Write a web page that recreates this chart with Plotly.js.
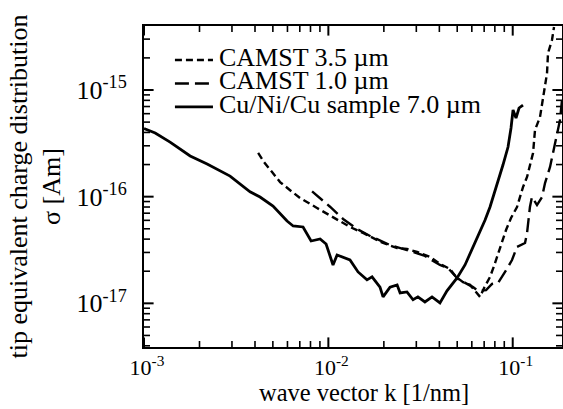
<!DOCTYPE html>
<html>
<head>
<meta charset="utf-8">
<script src="https://cdn.plot.ly/plotly-3.0.1.min.js"></script>
<style>html,body{margin:0;padding:0;background:#fff;}#chart{width:563px;height:409px;}</style>
</head>
<body>
<div id="chart"></div>
<script>
// Cu/Ni/Cu sample 7.0 um (solid)
const kCu = [0.00100, 0.00115, 0.001385, 0.00178, 0.00220, 0.00293, 0.00376, 0.00426, 0.00501, 0.00597, 0.00644, 0.00729, 0.00806, 0.00902, 0.00972, 0.0106, 0.01115, 0.0131, 0.01449, 0.0162, 0.01726, 0.01906, 0.0198, 0.0216, 0.0236, 0.0245, 0.0267, 0.0288, 0.0306, 0.0334, 0.0365, 0.0403, 0.0440, 0.0499, 0.0551, 0.0609, 0.0665, 0.0708, 0.0753, 0.0822, 0.0885, 0.0943, 0.0979, 0.1004, 0.1042, 0.1082, 0.1137];
const sCu = [4.36e-16, 3.95e-16, 3.25e-16, 2.41e-16, 2.02e-16, 1.56e-16, 1.11e-16, 9.93e-17, 8.18e-17, 5.91e-17, 5.31e-17, 5.20e-17, 3.84e-17, 4.01e-17, 3.60e-17, 2.29e-17, 2.84e-17, 2.55e-17, 1.97e-17, 1.66e-17, 1.77e-17, 1.42e-17, 1.15e-17, 1.42e-17, 1.49e-17, 1.25e-17, 1.28e-17, 1.08e-17, 1.15e-17, 1.03e-17, 1.15e-17, 1.01e-17, 1.31e-17, 1.73e-17, 2.29e-17, 3.38e-17, 4.67e-17, 6.04e-17, 8.00e-17, 1.29e-16, 1.98e-16, 2.92e-16, 4.40e-16, 6.49e-16, 5.46e-16, 6.78e-16, 7.23e-16];

// CAMST 3.5 um (short dashes)
const k35 = [0.00416, 0.00448, 0.00495, 0.00547, 0.00620, 0.00702, 0.00868, 0.01115, 0.0131, 0.01542, 0.01837, 0.0198, 0.0236, 0.0267, 0.0303, 0.0356, 0.0403, 0.0457, 0.0493, 0.0538, 0.0587, 0.0632, 0.0665, 0.0699, 0.0753, 0.0792, 0.0853, 0.0920, 0.0979, 0.1055, 0.1137, 0.1196, 0.1289, 0.1321, 0.1406, 0.1460, 0.1535, 0.1554, 0.1633, 0.1675];
const s35 = [2.57e-16, 2.11e-16, 1.70e-16, 1.37e-16, 1.15e-16, 9.72e-17, 7.83e-17, 6.04e-17, 5.20e-17, 4.57e-17, 3.92e-17, 3.68e-17, 3.30e-17, 3.23e-17, 3.03e-17, 2.72e-17, 2.34e-17, 2.10e-17, 1.77e-17, 1.58e-17, 1.49e-17, 1.28e-17, 1.15e-17, 1.39e-17, 1.77e-17, 2.24e-17, 3.30e-17, 4.87e-17, 6.31e-17, 8.00e-17, 1.23e-16, 1.53e-16, 2.57e-16, 4.22e-16, 5.58e-16, 8.60e-16, 1.44e-15, 2.22e-15, 2.94e-15, 3.90e-15];

// CAMST 1.0 um (long dashes)
const k10 = [0.00816, 0.01021, 0.01202, 0.0143, 0.01683, 0.0216, 0.0277, 0.0334, 0.0403, 0.0446, 0.0505, 0.0558, 0.0609, 0.0648, 0.0717, 0.0772, 0.0832, 0.0943, 0.0991, 0.1055, 0.1166, 0.1196, 0.1240, 0.1272, 0.1354, 0.1442, 0.1497, 0.1594, 0.1696, 0.1805, 0.1851];
const s10 = [1.12e-16, 8.05e-17, 6.18e-17, 4.98e-17, 4.28e-17, 3.52e-17, 3.10e-17, 2.78e-17, 2.29e-17, 2.14e-17, 1.69e-17, 1.55e-17, 1.42e-17, 1.31e-17, 1.33e-17, 1.52e-17, 1.55e-17, 2.19e-17, 2.55e-17, 3.38e-17, 3.68e-17, 4.57e-17, 8.00e-17, 9.93e-17, 8.35e-17, 9.93e-17, 1.34e-16, 1.90e-16, 3.19e-16, 5.23e-16, 8.06e-16];

const seriesNames = ['CAMST 3.5 \u00b5m', 'CAMST 1.0 \u00b5m', 'Cu/Ni/Cu sample 7.0 \u00b5m'];
const xTickVals = [0.001, 0.01, 0.1];
const xTickText = ['10<sup>-3</sup>', '10<sup>-2</sup>', '10<sup>-1</sup>'];
const yTickVals = [1e-17, 1e-16, 1e-15];
const yTickText = ['10<sup>-17</sup>', '10<sup>-16</sup>', '10<sup>-15</sup>'];
const xTitle = 'wave vector k [1/nm]';
const yTitle = 'tip equivalent charge distribution<br>\u03c3 [Am]';

const FONT = 'Liberation Serif, Times New Roman, serif';
const dashes = ['7px,4px', '14px,6px', 'solid'];
const widths = [2.4, 2.4, 2.8];

const xRange = [-3, -0.7327];
const yRange = [-17.4093, -14.4];
const plotW = 418, plotH = 321;

const traces = [
  {x: k35, y: s35, name: seriesNames[0], mode: 'lines', line: {color: '#000', width: widths[0], dash: dashes[0]}},
  {x: k10, y: s10, name: seriesNames[1], mode: 'lines', line: {color: '#000', width: widths[1], dash: dashes[1]}},
  {x: kCu, y: sCu, name: seriesNames[2], mode: 'lines', line: {color: '#000', width: widths[2], dash: dashes[2]}}
];

// tick marks (inside, all four sides) drawn as line-symbol markers on overlay axes
function tickValues(r) {
  const out = [];
  for (let e = Math.floor(r[0]); e <= Math.ceil(r[1]); e++) {
    for (let d = 1; d <= 9; d++) {
      const v = d * Math.pow(10, e), lv = Math.log10(v);
      if (lv >= r[0] - 1e-6 && lv <= r[1] + 1e-6) out.push({v: v, major: d === 1});
    }
  }
  return out;
}
function tickTraces(major) {
  const L = major ? 8 : 5, w = major ? 2 : 1.6;
  const xs = {x: [], y: []}, ys = {x: [], y: []};
  tickValues(xRange).filter(t => t.major === major).forEach(t => {
    const h = (L / 2) / plotH;
    xs.x.push(t.v, t.v); xs.y.push(h, 1 - h);
  });
  tickValues(yRange).filter(t => t.major === major).forEach(t => {
    const h = (L / 2) / plotW;
    ys.x.push(h, 1 - h); ys.y.push(t.v, t.v);
  });
  return [
    {x: xs.x, y: xs.y, xaxis: 'x', yaxis: 'y2', mode: 'markers', hoverinfo: 'skip', showlegend: false, cliponaxis: false,
      marker: {symbol: 'line-ns-open', size: L, color: '#000', line: {color: '#000', width: w}}},
    {x: ys.x, y: ys.y, xaxis: 'x2', yaxis: 'y', mode: 'markers', hoverinfo: 'skip', showlegend: false, cliponaxis: false,
      marker: {symbol: 'line-ew-open', size: L, color: '#000', line: {color: '#000', width: w}}}
  ];
}
traces.push(...tickTraces(true), ...tickTraces(false));

const shapes = [], annotations = [];

// legend drawn as samples + text (paper coordinates)
const legY = [0.894, 0.821, 0.748];
const legTextY = [0.903, 0.829, 0.755];
for (let i = 0; i < 3; i++) {
  shapes.push({type: 'line', xref: 'paper', yref: 'paper', x0: 0.074, x1: 0.165, y0: legY[i], y1: legY[i],
    line: {color: '#000', width: widths[i], dash: dashes[i]}});
  annotations.push({xref: 'paper', yref: 'paper', x: 0.177, y: legTextY[i], xanchor: 'left', yanchor: 'middle',
    borderpad: 0, text: seriesNames[i], showarrow: false, font: {family: FONT, size: 26, color: '#000'}});
}

// x-axis title
annotations.push({xref: 'paper', yref: 'paper', x: 0.526, y: -0.143, xanchor: 'center', yanchor: 'middle',
  text: xTitle, showarrow: false, font: {family: FONT, size: 24.5, color: '#000'}});

const layout = {
  width: 563, height: 409,
  margin: {l: 144, r: 1, t: 26, b: 62},
  paper_bgcolor: '#fff', plot_bgcolor: '#fff',
  showlegend: false,
  font: {family: FONT, color: '#000'},
  xaxis: {
    type: 'log', range: xRange,
    showgrid: false, zeroline: false, showline: true, linecolor: '#000', linewidth: 2, mirror: true,
    ticks: '', tickmode: 'array', tickvals: xTickVals, ticktext: xTickText,
    tickfont: {family: FONT, size: 22, color: '#000'},
    ticklabelshift: 3
  },
  yaxis: {
    type: 'log', range: yRange,
    showgrid: false, zeroline: false, showline: true, linecolor: '#000', linewidth: 2, mirror: true,
    ticks: '', tickmode: 'array', tickvals: yTickVals, ticktext: yTickText,
    tickfont: {family: FONT, size: 26, color: '#000'},
    ticklabelstandoff: 10,
    title: {text: yTitle, font: {family: FONT, size: 26, color: '#000'}, standoff: 8}
  },
  xaxis2: {overlaying: 'x', range: [0, 1], visible: false, fixedrange: true},
  yaxis2: {overlaying: 'y', range: [0, 1], visible: false, fixedrange: true},
  shapes: shapes,
  annotations: annotations
};

Plotly.newPlot('chart', traces, layout, {displayModeBar: false, staticPlot: true});
</script>
</body>
</html>
